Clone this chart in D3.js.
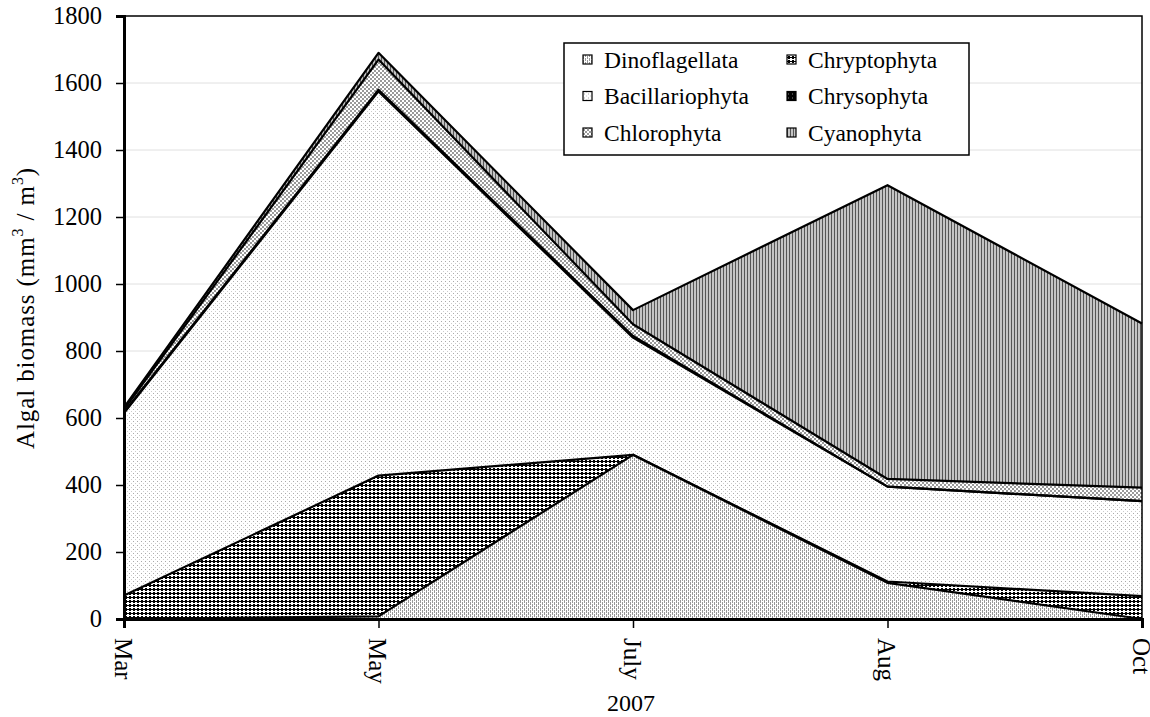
<!DOCTYPE html>
<html>
<head>
<meta charset="utf-8">
<script src="https://cdn.jsdelivr.net/npm/d3@7"></script>
<style>
  body { margin: 0; background: #fff; }
</style>
</head>
<body>
<svg id="chart" width="1150" height="717"></svg>
<script>
const months = ["Mar", "May", "July", "Aug", "Oct"];
const seriesNames = ["Dinoflagellata", "Chryptophyta", "Bacillariophyta", "Chrysophyta", "Chlorophyta", "Cyanophyta"];
const dinoflagellata = [0, 8, 490, 108, 0];
const chryptophyta = [70, 420, 0, 4, 68];
const bacillariophyta = [545, 1147, 350, 283, 284];
const chrysophyta = [2, 5, 5, 0, 0];
const chlorophyta = [8, 90, 35, 23, 40];
const cyanophyta = [7, 20, 42, 877, 490];
const yTicks = [0, 200, 400, 600, 800, 1000, 1200, 1400, 1600, 1800];

const seriesValues = [dinoflagellata, chryptophyta, bacillariophyta, chrysophyta, chlorophyta, cyanophyta];
const table = months.map((m, i) => {
    const row = { month: m };
    seriesNames.forEach((s, j) => row[s] = seriesValues[j][i]);
    return row;
});

const FONT = "'Liberation Serif', 'Times New Roman', serif";
const svg = d3.select("#chart").style("font-family", FONT);
const plotLeft = 124, plotRight = 1142, plotTop = 16, plotBottom = 619;

const x = d3.scalePoint().domain(months).range([plotLeft, plotRight]);
const y = d3.scaleLinear().domain([0, 1800]).range([plotBottom, plotTop]);

// fill patterns
const defs = svg.append("defs");
const pat = (id, w, h) => defs.append("pattern").attr("id", id)
    .attr("patternUnits", "userSpaceOnUse").attr("width", w).attr("height", h);

let p = pat("p-dino", 4, 4);
p.append("rect").attr("width", 4).attr("height", 4).attr("fill", "#fff");
p.append("rect").attr("x", 0).attr("y", 0).attr("width", 1).attr("height", 3).attr("fill", "#999");
p.append("rect").attr("x", 2).attr("y", 2).attr("width", 1).attr("height", 3).attr("fill", "#999");
p.append("rect").attr("x", 2).attr("y", 0).attr("width", 1).attr("height", 1).attr("fill", "#999");

p = pat("p-crypto", 4, 4);
p.append("rect").attr("width", 4).attr("height", 4).attr("fill", "#fff");
p.append("rect").attr("x", 1).attr("y", 0).attr("width", 2).attr("height", 3).attr("fill", "#000");
p.append("rect").attr("x", 0).attr("y", 1).attr("width", 4).attr("height", 1).attr("fill", "#000");

p = pat("p-bac", 4, 4);
p.append("rect").attr("width", 4).attr("height", 4).attr("fill", "#fff");
p.append("rect").attr("x", 1).attr("y", 1).attr("width", 1).attr("height", 1).attr("fill", "#aaa");
p.append("rect").attr("x", 3).attr("y", 3).attr("width", 1).attr("height", 1).attr("fill", "#ccc");

p = pat("p-chryso", 4, 4);
p.append("rect").attr("width", 4).attr("height", 4).attr("fill", "#000");
p.append("rect").attr("x", 1).attr("y", 1).attr("width", 1).attr("height", 1).attr("fill", "#888");

p = pat("p-chloro", 4, 4);
p.append("rect").attr("width", 4).attr("height", 4).attr("fill", "#fff");
p.append("rect").attr("x", 0).attr("y", 0).attr("width", 2).attr("height", 2).attr("fill", "#999");
p.append("rect").attr("x", 2).attr("y", 2).attr("width", 2).attr("height", 2).attr("fill", "#999");

p = pat("p-cyano", 3, 3);
p.append("rect").attr("width", 3).attr("height", 3).attr("fill", "#c4c4c4");
p.append("rect").attr("x", 0).attr("width", 1).attr("height", 3).attr("fill", "#555");

const fills = {
    "Dinoflagellata": "url(#p-dino)",
    "Chryptophyta": "url(#p-crypto)",
    "Bacillariophyta": "url(#p-bac)",
    "Chrysophyta": "url(#p-chryso)",
    "Chlorophyta": "url(#p-chloro)",
    "Cyanophyta": "url(#p-cyano)"
};

// grid lines
svg.append("g")
    .selectAll("line")
    .data(yTicks.filter(t => t > 0 && t < 1800))
    .join("line")
    .attr("x1", plotLeft).attr("x2", plotRight)
    .attr("y1", d => y(d)).attr("y2", d => y(d))
    .attr("stroke", "#e0e0e0").attr("stroke-width", 1);

const stacked = d3.stack().keys(seriesNames)(table);

const area = d3.area()
    .x(d => x(d.data.month))
    .y0(d => y(d[0]))
    .y1(d => y(d[1]));

const topLine = d3.line()
    .x(d => x(d.data.month))
    .y(d => y(d[1]));

svg.append("g")
    .selectAll("path")
    .data(stacked)
    .join("path")
    .attr("d", area)
    .attr("fill", d => fills[d.key]);

svg.append("g")
    .selectAll("path")
    .data(stacked)
    .join("path")
    .attr("d", topLine)
    .attr("fill", "none")
    .attr("stroke", "#000")
    .attr("stroke-width", 2.2)
    .attr("stroke-linejoin", "round");

// plot border
svg.append("rect")
    .attr("x", plotLeft).attr("y", plotTop)
    .attr("width", plotRight - plotLeft).attr("height", plotBottom - plotTop)
    .attr("fill", "none").attr("stroke", "#000").attr("stroke-width", 1.5);

// y axis
const yAxis = svg.append("g")
    .attr("transform", `translate(${plotLeft},0)`)
    .call(d3.axisLeft(y).tickValues(yTicks).tickFormat(d3.format("d")).tickSize(8).tickPadding(14));
yAxis.attr("font-family", null).attr("font-size", null);
yAxis.select(".domain").attr("stroke-width", 3);
yAxis.selectAll(".tick line").attr("stroke-width", 1.5);
yAxis.selectAll("text").style("font-size", "24.5px").attr("fill", "#000");

// x axis
const xAxis = svg.append("g")
    .attr("transform", `translate(0,${plotBottom})`)
    .call(d3.axisBottom(x).tickSize(9));
xAxis.attr("font-family", null).attr("font-size", null);
xAxis.select(".domain").attr("stroke-width", 3);
xAxis.selectAll(".tick line").attr("stroke-width", 1.5);
xAxis.selectAll("text")
    .style("font-size", "25px").attr("fill", "#000")
    .attr("text-anchor", "start")
    .attr("x", 19).attr("y", 10).attr("dy", null)
    .attr("transform", "rotate(90)");

svg.append("text")
    .attr("x", 631).attr("y", 711)
    .attr("text-anchor", "middle")
    .style("font-size", "24px")
    .text("2007");

// y title
const yt = svg.append("text")
    .attr("transform", "translate(34,308) rotate(-90)")
    .attr("text-anchor", "middle")
    .style("font-size", "25px")
    .style("letter-spacing", "0.9px");
yt.append("tspan").text("Algal biomass (mm");
yt.append("tspan").style("font-size", "16px").attr("dy", -11).text("3");
yt.append("tspan").attr("dy", 11).text(" / m");
yt.append("tspan").style("font-size", "16px").attr("dy", -11).text("3");
yt.append("tspan").attr("dy", 11).text(")");

// legend
const legendOrder = ["Dinoflagellata", "Chryptophyta", "Bacillariophyta", "Chrysophyta", "Chlorophyta", "Cyanophyta"];
const lg = svg.append("g");
lg.append("rect")
    .attr("x", 564).attr("y", 43).attr("width", 405).attr("height", 112)
    .attr("fill", "#fff").attr("stroke", "#000").attr("stroke-width", 1.5);
const items = lg.selectAll(".legend-item")
    .data(legendOrder)
    .join("g")
    .attr("class", "legend-item")
    .attr("transform", (d, i) => `translate(${i % 2 === 0 ? 583 : 787},${60 + Math.floor(i / 2) * 36.5})`);
items.append("rect")
    .attr("x", 0).attr("y", -5).attr("width", 9).attr("height", 9)
    .attr("fill", d => fills[d]).attr("stroke", "#000").attr("stroke-width", 1.2);
items.append("text")
    .attr("x", 21).attr("y", 0).attr("dy", "0.33em")
    .style("font-size", "23.5px")
    .text(d => d);
</script>
</body>
</html>
